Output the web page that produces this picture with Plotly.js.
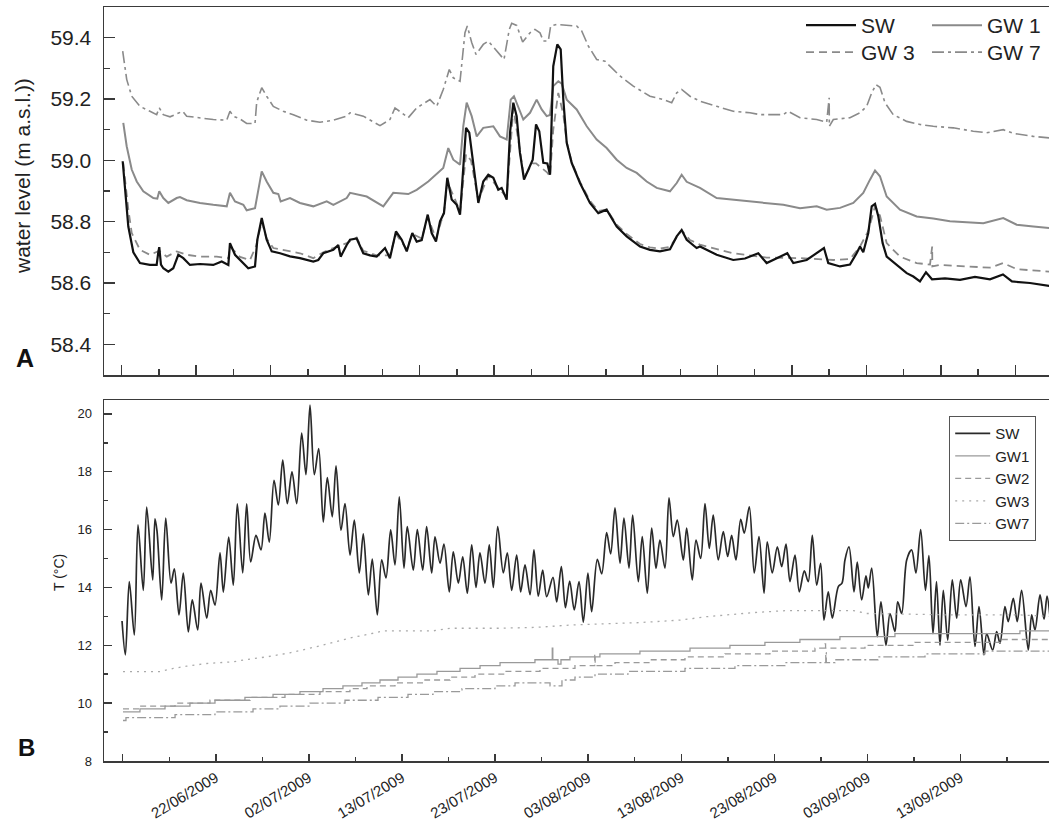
<!DOCTYPE html>
<html><head><meta charset="utf-8">
<script src="https://cdn.plot.ly/plotly-3.0.1.min.js"></script>
<style>html,body{margin:0;padding:0;background:#fff}#chart{width:1049px;height:827px}</style>
</head><body><div id="chart"></div>
<script>
// ---------- DATA (time = days since 2009-06-12 00:00) ----------
// Panel A: water level (m a.s.l.)
const levelSwDay = [0.175,0.43,0.80,1.36,2.10,3.21,3.96,4.14,4.25,4.44,4.70,5.26,5.81,6.37,6.93,7.67,8.79,10.27,11.21,11.95,12.13,12.69,13.62,14.17,14.92,15.18,15.67,16.22,16.78,17.71,18.82,19.93,21.42,21.97,22.53,23.65,24.20,24.47,25.14,25.51,26.25,26.99,27.74,28.48,29.41,29.96,30.63,31.27,31.83,32.45,32.94,33.50,34.17,34.61,35.09,35.54,35.98,36.35,36.84,37.40,37.77,38.07,38.44,38.80,39.25,39.81,40.36,40.92,41.48,42.03,42.41,42.97,43.34,43.71,44.08,44.45,44.90,45.38,45.87,46.24,46.60,47.05,47.50,47.80,48.16,48.61,48.99,49.28,49.66,50.21,51.14,52.25,53.18,54.11,55.23,56.34,57.83,58.94,60.05,61.17,61.92,62.47,63.03,64.14,64.51,66.37,68.22,69.53,71.01,71.94,74.24,74.91,76.40,78.33,78.81,80.12,81.23,81.97,82.35,82.71,83.27,83.65,84.02,84.39,84.87,85.32,86.43,87.55,88.29,89.03,89.70,90.37,91.82,93.49,95.16,96.83,98.28,99.28,101.29,103.52];
const levelSw = [58.997,58.915,58.784,58.70,58.665,58.659,58.659,58.70,58.717,58.66,58.648,58.637,58.648,58.692,58.681,58.659,58.662,58.659,58.67,58.659,58.73,58.692,58.665,58.648,58.654,58.741,58.812,58.741,58.703,58.697,58.687,58.681,58.67,58.675,58.697,58.708,58.724,58.686,58.724,58.741,58.745,58.697,58.69,58.686,58.714,58.681,58.768,58.741,58.703,58.763,58.735,58.74,58.823,58.763,58.735,58.801,58.828,58.943,58.872,58.855,58.823,58.937,59.106,59.09,58.98,58.861,58.931,58.953,58.943,58.904,58.91,58.872,59.09,59.188,59.144,59.024,58.937,58.97,59.002,59.117,59.095,58.992,58.99,58.953,59.307,59.378,59.362,59.198,59.057,58.992,58.926,58.861,58.828,58.839,58.784,58.752,58.719,58.708,58.703,58.71,58.752,58.773,58.741,58.714,58.719,58.692,58.675,58.68,58.697,58.665,58.697,58.665,58.675,58.714,58.665,58.654,58.66,58.697,58.719,58.70,58.763,58.85,58.858,58.817,58.73,58.686,58.659,58.632,58.621,58.605,58.635,58.612,58.615,58.61,58.62,58.612,58.628,58.605,58.60,58.59];

const levelGw1Day = [0.24,0.62,1.18,1.74,2.47,3.59,4.03,4.25,4.70,5.26,6.19,6.56,7.31,8.79,10.27,11.77,12.13,12.69,13.62,13.99,14.92,15.22,15.67,16.22,16.96,17.52,17.78,18.82,19.93,21.42,22.91,23.65,25.14,25.51,27.37,29.22,30.33,32.00,32.94,34.23,35.24,35.90,36.46,37.02,37.77,38.13,38.51,39.07,39.63,40.36,41.48,42.22,42.97,43.42,43.78,44.26,44.82,45.57,46.31,46.87,47.43,47.80,48.16,48.72,49.10,49.66,50.77,51.89,53.00,54.11,55.23,56.34,57.46,58.57,59.69,61.17,61.92,62.47,63.03,64.14,64.51,66.37,68.22,70.08,71.94,73.80,75.66,77.52,78.63,80.12,81.60,82.71,83.46,84.02,84.57,85.32,86.80,88.66,90.51,92.37,94.23,96.09,98.31,99.81,101.66,103.52];
const levelGw1 = [59.122,59.046,58.97,58.931,58.899,58.877,58.875,58.899,58.877,58.861,58.877,58.88,58.87,58.861,58.855,58.85,58.894,58.866,58.855,58.837,58.844,58.894,58.964,58.931,58.894,58.89,58.866,58.877,58.861,58.85,58.866,58.855,58.877,58.894,58.882,58.85,58.894,58.89,58.904,58.931,58.959,58.975,59.04,59.002,58.986,59.111,59.188,59.144,59.078,59.106,59.111,59.078,59.068,59.198,59.209,59.176,59.133,59.155,59.198,59.166,59.144,59.148,59.242,59.258,59.25,59.198,59.166,59.111,59.068,59.04,59.002,58.975,58.959,58.931,58.91,58.899,58.926,58.953,58.93,58.915,58.91,58.877,58.872,58.866,58.861,58.855,58.844,58.85,58.839,58.845,58.861,58.894,58.937,58.967,58.948,58.882,58.839,58.817,58.81,58.801,58.798,58.795,58.812,58.79,58.784,58.779];

const levelGw3Day = [0.24,0.80,1.18,2.10,3.21,4.25,5.08,6.19,7.31,8.79,10.65,11.95,12.13,13.25,14.36,15.03,15.67,16.22,16.96,18.07,19.93,21.42,22.53,23.65,25.14,26.25,26.99,28.48,29.96,30.63,31.83,32.45,33.50,34.17,35.09,35.98,36.35,37.40,37.77,38.44,38.99,39.81,40.92,42.03,42.97,43.71,44.45,44.90,45.87,46.24,47.50,47.80,48.16,48.72,49.28,49.66,50.21,51.14,52.25,53.18,54.11,55.23,56.34,57.83,58.94,60.05,61.17,62.47,63.40,64.51,68.22,71.94,75.66,79.37,81.23,82.35,83.27,84.02,84.57,85.32,86.80,88.66,90.15,90.39,90.41,91.26,94.23,96.83,98.31,99.81,103.52];
const levelGw3 = [58.99,58.84,58.763,58.708,58.692,58.705,58.686,58.703,58.692,58.686,58.686,58.681,58.719,58.685,58.675,58.72,58.80,58.745,58.714,58.708,58.697,58.681,58.70,58.714,58.73,58.748,58.705,58.69,58.69,58.76,58.71,58.76,58.745,58.815,58.745,58.83,58.93,58.86,58.83,59.02,59.0,58.87,58.95,58.91,58.88,59.17,59.03,58.945,58.99,58.99,58.96,58.948,59.1,59.22,59.15,59.06,58.995,58.93,58.868,58.835,58.84,58.79,58.76,58.727,58.716,58.712,58.718,58.772,58.74,58.725,58.697,58.683,58.681,58.675,58.678,58.719,58.77,58.85,58.82,58.73,58.686,58.665,58.66,58.719,58.654,58.659,58.654,58.65,58.665,58.645,58.637];

const levelGw7Day = [0.175,0.62,1.18,2.10,3.21,3.96,4.25,4.70,5.45,6.56,6.86,7.31,8.79,10.27,11.77,12.13,12.50,13.25,13.99,14.92,15.11,15.67,16.22,16.96,18.07,19.19,20.68,22.16,23.65,25.14,25.51,26.99,28.85,29.96,30.52,32.00,32.94,34.42,35.17,35.90,36.57,37.02,37.77,38.32,38.58,39.07,39.55,40.36,40.92,41.86,42.67,43.26,43.53,44.08,44.75,45.57,46.12,46.68,47.05,47.61,47.87,48.54,50.77,51.33,52.06,53.00,53.93,54.48,55.60,57.08,58.94,60.42,61.36,61.92,62.47,63.40,64.51,66.37,68.22,70.08,71.19,73.80,74.32,75.66,77.52,78.63,78.91,78.93,79.37,81.23,82.35,83.09,83.65,84.13,84.57,85.13,86.05,87.55,89.03,90.51,92.74,94.97,96.46,98.31,99.43,101.66,103.52];
const levelGw7 = [59.356,59.264,59.209,59.176,59.16,59.149,59.171,59.149,59.142,59.155,59.16,59.144,59.139,59.133,59.131,59.16,59.144,59.135,59.12,59.12,59.19,59.237,59.209,59.176,59.16,59.149,59.131,59.124,59.131,59.144,59.155,59.144,59.113,59.133,59.171,59.139,59.171,59.198,59.176,59.231,59.296,59.269,59.258,59.416,59.438,59.384,59.345,59.378,59.389,59.356,59.329,59.427,59.447,59.44,59.386,59.416,59.427,59.416,59.389,59.389,59.438,59.443,59.438,59.422,59.373,59.329,59.323,59.307,59.275,59.242,59.209,59.198,59.188,59.22,59.231,59.209,59.193,59.176,59.16,59.155,59.149,59.149,59.16,59.139,59.133,59.124,59.204,59.111,59.133,59.139,59.155,59.176,59.22,59.247,59.238,59.188,59.149,59.127,59.117,59.111,59.106,59.095,59.09,59.1,59.088,59.078,59.073];

// Panel B: temperature (°C)
const tempSwDay = [0.10,0.47,0.91,1.47,1.88,2.47,2.85,3.52,3.77,4.00,4.52,4.97,5.56,5.93,6.45,6.93,7.49,7.93,8.53,8.90,9.54,9.98,10.46,11.02,11.39,11.99,12.50,12.95,13.55,13.99,14.44,15.03,15.59,16.03,16.51,17.04,17.52,18.01,18.52,19.04,19.57,20.12,20.60,21.05,21.53,22.02,22.53,22.98,23.53,23.95,24.50,24.95,25.51,25.99,26.54,26.99,27.55,27.99,28.55,29.04,29.52,30.04,30.52,31.00,31.52,31.89,32.56,33.01,33.61,34.05,34.61,34.98,35.54,35.98,36.57,37.02,37.58,38.07,38.58,39.07,39.55,39.99,40.55,41.03,41.48,41.97,42.59,43.04,43.53,44.08,44.53,45.01,45.57,46.01,46.49,46.98,47.43,48.13,48.54,49.06,49.52,49.99,50.50,51.03,51.51,52.02,52.44,53.07,53.56,54.11,54.56,55.04,55.60,56.04,56.60,57.01,57.64,58.08,58.64,59.13,59.61,60.05,60.61,61.06,61.54,61.98,62.65,63.03,63.65,64.07,64.59,65.07,65.55,65.99,66.55,67.11,67.60,68.04,68.52,69.05,69.45,70.01,70.56,71.09,71.65,72.01,72.57,73.13,73.62,74.10,74.54,75.10,75.58,76.14,76.58,77.03,77.52,77.96,78.33,78.81,79.26,79.93,80.34,80.67,81.12,81.68,82.04,82.53,83.01,83.27,83.65,84.27,84.68,85.24,85.69,86.24,86.55,86.99,87.55,88.10,88.58,89.11,89.64,90.03,90.48,90.87,91.26,91.63,92.12,92.63,93.12,93.57,94.16,94.60,95.16,95.61,96.16,96.46,97.13,97.58,97.95,98.50,98.87,99.43,99.87,100.36,101.10,101.48,101.85,102.41,102.86,103.19,103.52];
const tempSw = [12.84,11.67,14.2,12.36,16.16,13.9,16.78,14.26,16.37,15.95,13.57,16.4,14.15,14.64,13.05,14.5,12.46,13.57,12.53,14.15,12.94,13.9,13.39,15.2,13.84,15.74,14.08,16.89,14.5,16.89,14.88,15.8,15.3,16.57,15.57,17.7,16.85,18.4,16.9,18.0,16.9,19.34,17.9,20.3,17.9,18.8,16.26,17.8,16.44,18.2,15.98,16.9,15.12,16.33,14.5,15.85,13.74,14.98,13.05,14.95,14.33,15.99,14.78,17.13,14.67,16.1,14.6,16.0,14.6,16.1,14.5,15.75,14.84,15.5,13.85,15.23,14.15,15.06,13.8,15.47,14.0,15.2,14.15,15.47,14.0,16.1,14.5,15.2,13.9,15.12,13.85,14.78,13.75,15.3,13.7,14.6,13.68,14.35,13.5,14.72,13.3,14.22,13.22,14.2,12.8,14.5,13.16,14.97,14.47,15.9,15.16,16.75,14.84,16.4,14.67,16.5,14.2,15.76,13.8,16.05,14.66,15.64,14.67,17.1,15.76,16.33,14.95,16.05,14.26,15.64,15.0,16.9,15.35,16.5,14.95,15.93,15.07,15.8,14.95,16.35,15.88,16.79,14.5,15.76,13.8,15.58,14.5,15.4,14.72,15.5,14.2,15.12,13.85,14.57,14.2,15.8,14.08,14.83,12.87,13.85,12.94,14.03,14.15,14.95,15.4,13.85,14.88,13.57,14.4,13.98,14.67,12.3,13.5,12.0,13.1,12.47,13.5,13.1,14.95,15.3,14.5,16.0,13.9,15.1,12.4,14.2,12.0,13.9,12.18,14.26,12.94,14.26,13.34,14.37,11.96,13.34,11.67,12.4,11.84,12.47,12.07,13.34,12.82,13.62,12.82,13.9,11.84,13.05,12.53,13.74,12.9,13.7,13.0];

const tempGw1Day = [0.21,2.10,4.89,7.67,10.46,13.80,16.93,19.93,22.50,24.72,26.84,28.85,30.86,32.97,35.20,37.77,40.00,42.23,46.12,48.05,48.11,48.69,49.02,50.02,53.36,57.82,63.40,67.85,71.75,75.65,80.11,86.24,100.17,103.52];
const tempGw1 = [9.7,9.8,9.9,10.0,10.1,10.2,10.3,10.4,10.5,10.6,10.7,10.8,10.9,11.0,11.1,11.2,11.3,11.4,11.5,11.9,11.5,11.35,11.5,11.6,11.7,11.8,11.9,12.0,12.1,12.2,12.3,12.4,12.5,12.5];

const tempGw2Day = [0.21,2.10,6.01,9.90,14.36,18.26,22.16,25.50,27.40,30.52,33.86,36.65,39.44,42.78,46.68,50.58,52.78,52.83,55.04,58.94,62.84,67.30,72.31,77.33,78.46,78.51,82.90,88.46,97.95,103.52];
const tempGw2 = [9.8,9.9,10.0,10.1,10.2,10.3,10.4,10.5,10.6,10.7,10.8,10.9,11.0,11.1,11.2,11.3,11.7,11.3,11.4,11.5,11.6,11.7,11.8,11.9,12.05,11.9,12.0,12.1,12.2,12.2];

const tempGw3Day = [0.21,4.33,5.81,7.31,9.54,12.50,13.99,16.22,18.82,20.68,22.16,24.02,25.87,27.74,29.22,34.79,36.65,42.22,46.31,50.02,57.45,62.29,65.26,70.46,74.17,81.60,83.09,92.71,100.17,103.52];
const tempGw3 = [11.09,11.09,11.2,11.28,11.37,11.43,11.51,11.6,11.74,11.86,11.98,12.13,12.28,12.39,12.5,12.5,12.59,12.59,12.62,12.7,12.78,12.87,12.99,13.13,13.2,13.2,13.1,13.05,13.05,13.0];

const tempGw7Day = [0.21,0.54,6.01,10.46,14.70,17.70,21.05,24.95,28.63,31.97,34.76,37.99,41.67,43.90,47.80,49.13,50.58,52.81,56.49,62.84,68.41,73.98,78.53,78.59,79.56,84.35,89.59,96.28,103.52];
const tempGw7 = [9.4,9.5,9.6,9.7,9.8,9.9,10.0,10.1,10.2,10.3,10.4,10.5,10.6,10.7,10.6,10.8,10.9,11.0,11.1,11.2,11.3,11.4,11.75,11.4,11.5,11.6,11.7,11.8,11.8];

const dateTickLabels = ['', '22/06/2009', '02/07/2009', '13/07/2009', '23/07/2009', '03/08/2009', '13/08/2009', '23/08/2009', '03/09/2009', '13/09/2009'];

// ---------- helpers ----------
const DAY = 86400000;
const T0 = Date.UTC(2009, 5, 12);
function toDate(d) { return new Date(T0 + d * DAY).toISOString().slice(0, 19).replace('T', ' '); }
const dates = arr => arr.map(toDate);

const FONT = 'Liberation Sans, Arial, sans-serif';
const grey = '#8a8a8a';

// axis layout parameters
const xRange = [toDate(-1.909), toDate(103.41)];
const botTick0 = 0.175, botStep = 10.375;
const topTick0 = 0.064, topStep = 8.30;
const botMajor = dateTickLabels.map((_, k) => toDate(botTick0 + botStep * k));
const botMinor = dateTickLabels.map((_, k) => toDate(botTick0 + botStep * (k + 0.5)));
const topMajor = [], topMinor = [];
for (let k = 0; k <= 12; k++) topMajor.push(toDate(topTick0 + topStep * k));
for (let k = 0; k < 12; k++) topMinor.push(toDate(topTick0 + topStep * (k + 0.5)));

const traces = [
  {x: dates(levelGw7Day), y: levelGw7, xaxis: 'x', yaxis: 'y', mode: 'lines', name: 'GW 7', legend: 'legend4',
   line: {color: grey, width: 1.6, dash: '12px,4px,3px,4px'}},
  {x: dates(levelGw1Day), y: levelGw1, xaxis: 'x', yaxis: 'y', mode: 'lines', name: 'GW 1', legend: 'legend2',
   line: {color: grey, width: 2}},
  {x: dates(levelGw3Day), y: levelGw3, xaxis: 'x', yaxis: 'y', mode: 'lines', name: 'GW 3', legend: 'legend3',
   line: {color: grey, width: 1.8, dash: '8px,5px'}},
  {x: dates(levelSwDay), y: levelSw, xaxis: 'x', yaxis: 'y', mode: 'lines', name: 'SW', legend: 'legend',
   line: {color: '#111', width: 2.2}},

  {x: dates(tempSwDay), y: tempSw, xaxis: 'x2', yaxis: 'y2', mode: 'lines', name: 'SW', legend: 'legend5',
   line: {color: '#2a2a2a', width: 1.7, shape: 'spline', smoothing: 0.9}},
  {x: dates(tempGw1Day), y: tempGw1, xaxis: 'x2', yaxis: 'y2', mode: 'lines', name: 'GW1', legend: 'legend5',
   line: {color: '#9a9a9a', width: 1.3, shape: 'hv'}},
  {x: dates(tempGw2Day), y: tempGw2, xaxis: 'x2', yaxis: 'y2', mode: 'lines', name: 'GW2', legend: 'legend5',
   line: {color: '#9a9a9a', width: 1.3, shape: 'hv', dash: '6px,4px'}},
  {x: dates(tempGw3Day), y: tempGw3, xaxis: 'x2', yaxis: 'y2', mode: 'lines', name: 'GW3', legend: 'legend5',
   line: {color: '#aaaaaa', width: 1.3, dash: '2px,5px'}},
  {x: dates(tempGw7Day), y: tempGw7, xaxis: 'x2', yaxis: 'y2', mode: 'lines', name: 'GW7', legend: 'legend5',
   line: {color: '#9a9a9a', width: 1.3, shape: 'hv', dash: '9px,3px,2px,3px'}}
];

const axisLine = {showline: true, linecolor: '#3a3a3a', linewidth: 1.5, showgrid: false, zeroline: false};
const pW = 945, pH = 754;
const px = v => (v - 104) / pW;
const py = v => (761 - v) / pH;

const topLegend = (xp, yp) => ({x: px(xp), y: py(yp), xanchor: 'left', yanchor: 'top', bgcolor: 'rgba(0,0,0,0)',
  borderwidth: 0, itemwidth: 50, font: {family: FONT, size: 21, color: '#222'}});

const layout = {
  width: 1049, height: 827,
  margin: {l: 104, r: 0, t: 7, b: 66},
  paper_bgcolor: '#fff', plot_bgcolor: '#fff',
  font: {family: FONT, color: '#222'},
  showlegend: true,
  xaxis: Object.assign({}, axisLine, {
    type: 'date', range: xRange, anchor: 'y', mirror: true,
    tickmode: 'array', tickvals: topMajor, showticklabels: false,
    ticks: 'inside', ticklen: 10, tickwidth: 1.5, tickcolor: '#3a3a3a',
    minor: {tickmode: 'array', tickvals: topMinor, ticks: 'inside', ticklen: 6, tickwidth: 1.5, tickcolor: '#3a3a3a'}
  }),
  yaxis: Object.assign({}, axisLine, {
    domain: [py(375), 1], anchor: 'x', range: [58.3, 59.5],
    tick0: 58.4, dtick: 0.2, tickformat: '.1f',
    ticks: 'inside', ticklen: 11, tickwidth: 1.5, tickcolor: '#3a3a3a',
    minor: {tick0: 58.3, dtick: 0.1, ticks: 'inside', ticklen: 6, tickwidth: 1.5, tickcolor: '#3a3a3a'},
    tickfont: {family: FONT, size: 21, color: '#222'}, ticklabelstandoff: 7
  }),
  xaxis2: Object.assign({}, axisLine, {
    type: 'date', range: xRange, anchor: 'y2', mirror: true,
    tickmode: 'array', tickvals: botMajor, ticktext: dateTickLabels, tickangle: -31,
    ticks: 'inside', ticklen: 7, tickwidth: 1.5, tickcolor: '#3a3a3a',
    minor: {tickmode: 'array', tickvals: botMinor, ticks: 'inside', ticklen: 4, tickwidth: 1.5, tickcolor: '#3a3a3a'},
    tickfont: {family: FONT, size: 15, color: '#222'}, ticklabelstandoff: 1
  }),
  yaxis2: Object.assign({}, axisLine, {
    domain: [0, py(400)], anchor: 'x2', range: [8, 20.48],
    tick0: 8, dtick: 2,
    ticks: 'inside', ticklen: 8, tickwidth: 1.5, tickcolor: '#3a3a3a',
    minor: {tick0: 9, dtick: 1, ticks: 'inside', ticklen: 4, tickwidth: 1.5, tickcolor: '#3a3a3a'},
    tickfont: {family: FONT, size: 13, color: '#222'}, ticklabelstandoff: 8
  }),
  legend: topLegend(801, 5),
  legend2: topLegend(927, 5),
  legend3: topLegend(801, 32),
  legend4: topLegend(927, 32),
  legend5: {x: px(949), y: py(416), xanchor: 'left', yanchor: 'top', bgcolor: '#fff',
    bordercolor: '#555', borderwidth: 1.2, itemwidth: 35, tracegroupgap: 0,
    font: {family: FONT, size: 15, color: '#222'}},
  annotations: [
    {text: 'water level (m a.s.l.))', xref: 'paper', yref: 'paper', x: px(22), y: py(176),
     xanchor: 'center', yanchor: 'middle', textangle: -90, showarrow: false,
     font: {family: FONT, size: 21, color: '#222'}},
    {text: 'T (°C)', xref: 'paper', yref: 'paper', x: px(59), y: py(573),
     xanchor: 'center', yanchor: 'middle', textangle: -90, showarrow: false,
     font: {family: FONT, size: 14, color: '#222'}},
    {text: '<b>A</b>', xref: 'paper', yref: 'paper', x: px(25), y: py(358), xanchor: 'center', yanchor: 'middle',
     showarrow: false, font: {family: FONT, size: 25, color: '#111'}},
    {text: '<b>B</b>', xref: 'paper', yref: 'paper', x: px(26), y: py(747), xanchor: 'center', yanchor: 'middle',
     showarrow: false, font: {family: FONT, size: 24, color: '#111'}}
  ]
};

Plotly.newPlot('chart', traces, layout, {displayModeBar: false, staticPlot: true});
</script></body></html>
